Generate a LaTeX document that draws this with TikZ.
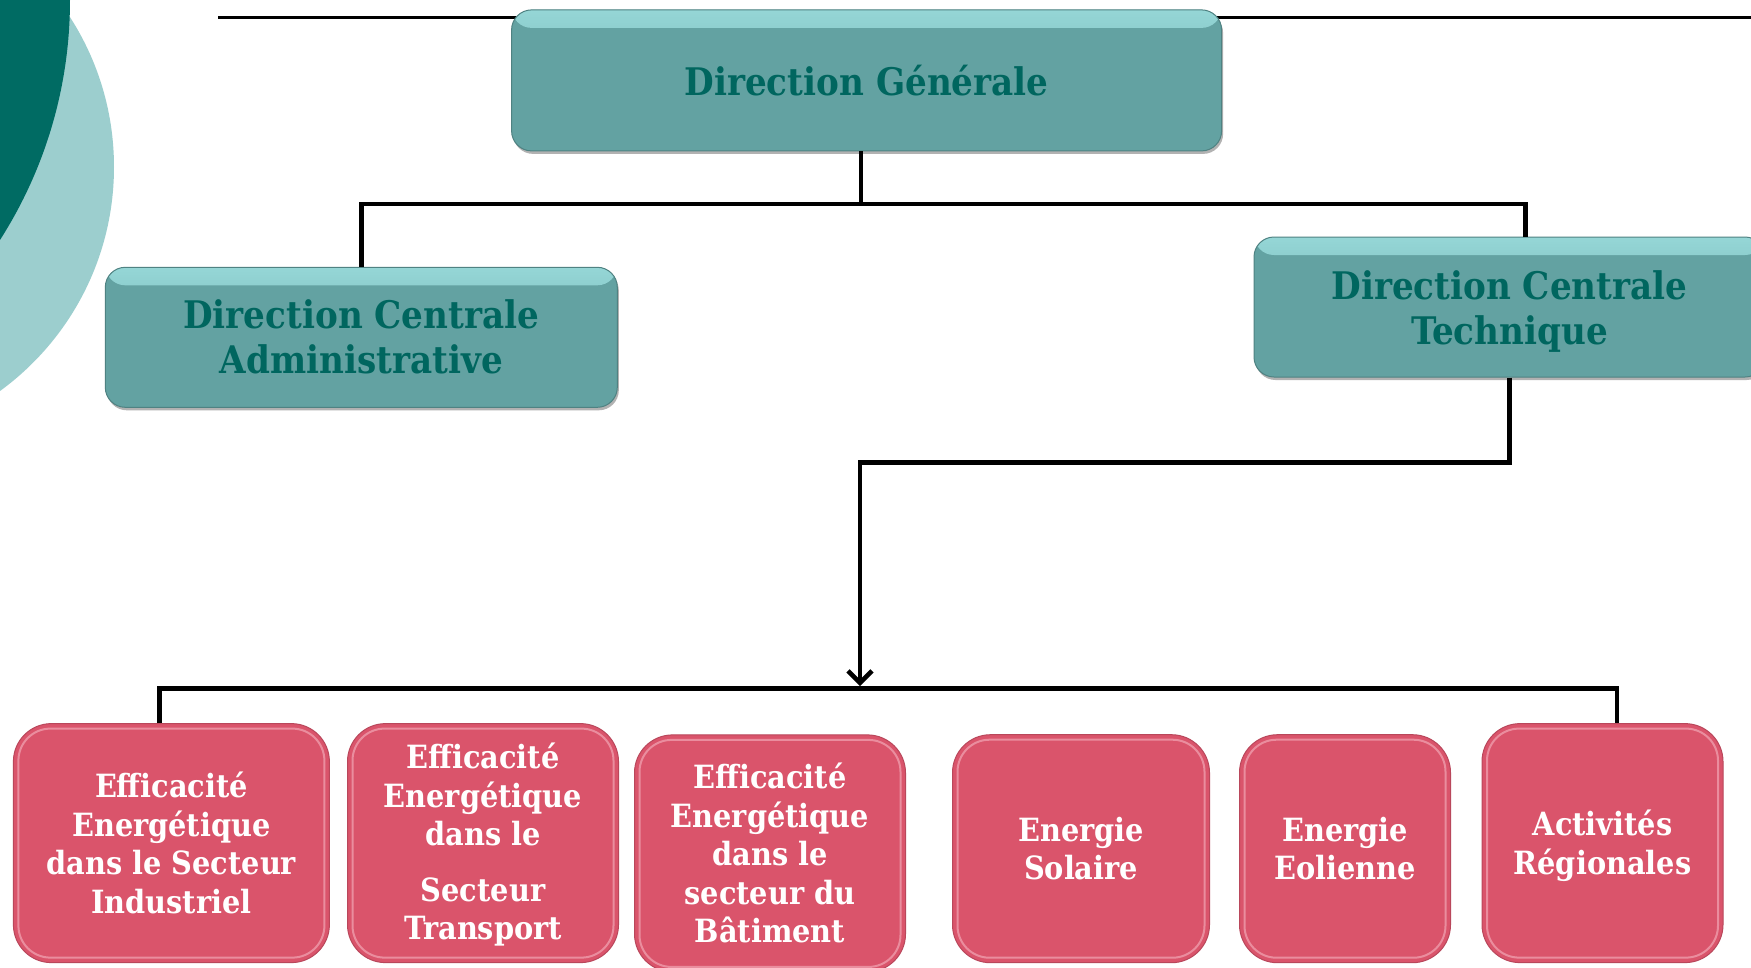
\documentclass[tikz,border=0pt]{standalone}
\usepackage{fontspec}
\newfontfamily\boxfont{DejaVu Serif Condensed}
\usetikzlibrary{arrows.meta,shadows}
\definecolor{tealbox}{HTML}{63A2A2}
\definecolor{tealtext}{HTML}{00665F}
\definecolor{tealhi}{HTML}{95D6D6}
\definecolor{tealdark}{HTML}{006B63}
\definecolor{teallight}{HTML}{9CCECE}
\definecolor{pinkbox}{HTML}{DA546B}
\definecolor{pinkhi}{HTML}{F6B4C0}
\begin{document}
\begin{tikzpicture}[x=1pt,y=-1pt,
  tealnode/.style={rectangle, rounded corners=20pt, fill=tealbox,
    draw=tealbox!80!black, line width=1pt, text=tealtext, align=center, inner sep=0pt,
    font=\boxfont\bfseries\fontsize{38}{45}\selectfont,
    general shadow={fill=black!30, shadow xshift=1.5pt, shadow yshift=-3pt},
    path picture={\shade[top color=tealhi, bottom color=tealbox]
      (path picture bounding box.north west) rectangle ([yshift=-18pt]path picture bounding box.north east);}},
  pinknode/.style={rectangle, rounded corners=38pt, fill=pinkbox,
    draw=pinkbox!85!black, line width=1pt, text=white, align=center, inner sep=0pt,
    font=\boxfont\bfseries\fontsize{32}{38.5}\selectfont,
    path picture={\draw[pinkhi, line width=2pt, opacity=0.6, rounded corners=32pt]
      ([xshift=5pt,yshift=-5pt]path picture bounding box.north west) rectangle
      ([xshift=-5pt,yshift=5pt]path picture bounding box.south east);}},
  conn/.style={line width=4.5pt, draw=black},
  thinline/.style={line width=3pt, draw=black}]
\useasboundingbox (0,0) rectangle (1751,967);
\fill[white] (0,0) rectangle (1751,967);
% decorative circles
\begin{scope}
  \clip (0,0) rectangle (1751,967);
  \fill[teallight] (-163,167) circle[radius=277pt];
  \fill[tealdark] (-376,0) circle[radius=446pt];
\end{scope}
% top line
\coordinate (tl) at (218,17);
\coordinate (tr) at (1751,17);
\draw[thinline] (tl) -- (tr);
% teal nodes
\node[tealnode, minimum width=710pt, minimum height=141pt] (dg) at (866.6,80.4) {Direction Générale};
\node[tealnode, minimum width=512pt, minimum height=140pt] (dca) at (361.3,337.3) {Direction Centrale\\Administrative};
\node[tealnode, minimum width=511pt, minimum height=140pt] (dct) at (1509.5,307) {\rule{0pt}{38pt}Direction Centrale\\Technique};
% pink nodes
\node[pinknode, minimum width=316pt, minimum height=239pt] (e1) at (171.4,843.1) {Efficacité\\Energétique\\dans le Secteur\\Industriel};
\node[pinknode, minimum width=271pt, minimum height=239pt] (e2) at (483,843.1) {\rule{0pt}{29pt}Efficacité\\Energétique\\dans le\\[17pt]Secteur\\Transport};
\node[pinknode, minimum width=271pt, minimum height=237pt] (e3) at (770,853.4) {Efficacité\\Energétique\\dans le\\secteur du\\Bâtiment};
\node[pinknode, minimum width=257pt, minimum height=228pt] (e4) at (1081,848.7) {Energie\\Solaire};
\node[pinknode, minimum width=211pt, minimum height=228pt] (e5) at (1345,848.7) {Energie\\Eolienne};
\node[pinknode, minimum width=241pt, minimum height=239pt] (e6) at (1602.5,843.1) {\rule{0pt}{31pt}Activités\\Régionales};
% connectors
\coordinate (bus1) at (861,204);
\coordinate (arr) at (860,686);
\draw[conn] ([xshift=-5.6pt]dg.south) -- (bus1);
\draw[conn] (dca.north) |- (bus1) -| ([xshift=15.9pt]dct.north);
\draw[conn, -{Straight Barb[length=12pt,width=24pt]}] (dct.south) -- ++(0,85) -| (arr);
\draw[conn] ([xshift=-11.7pt]e1.north) -- ++(0,-34.6) -| ([xshift=14.5pt]e6.north);
\end{tikzpicture}
\end{document}
